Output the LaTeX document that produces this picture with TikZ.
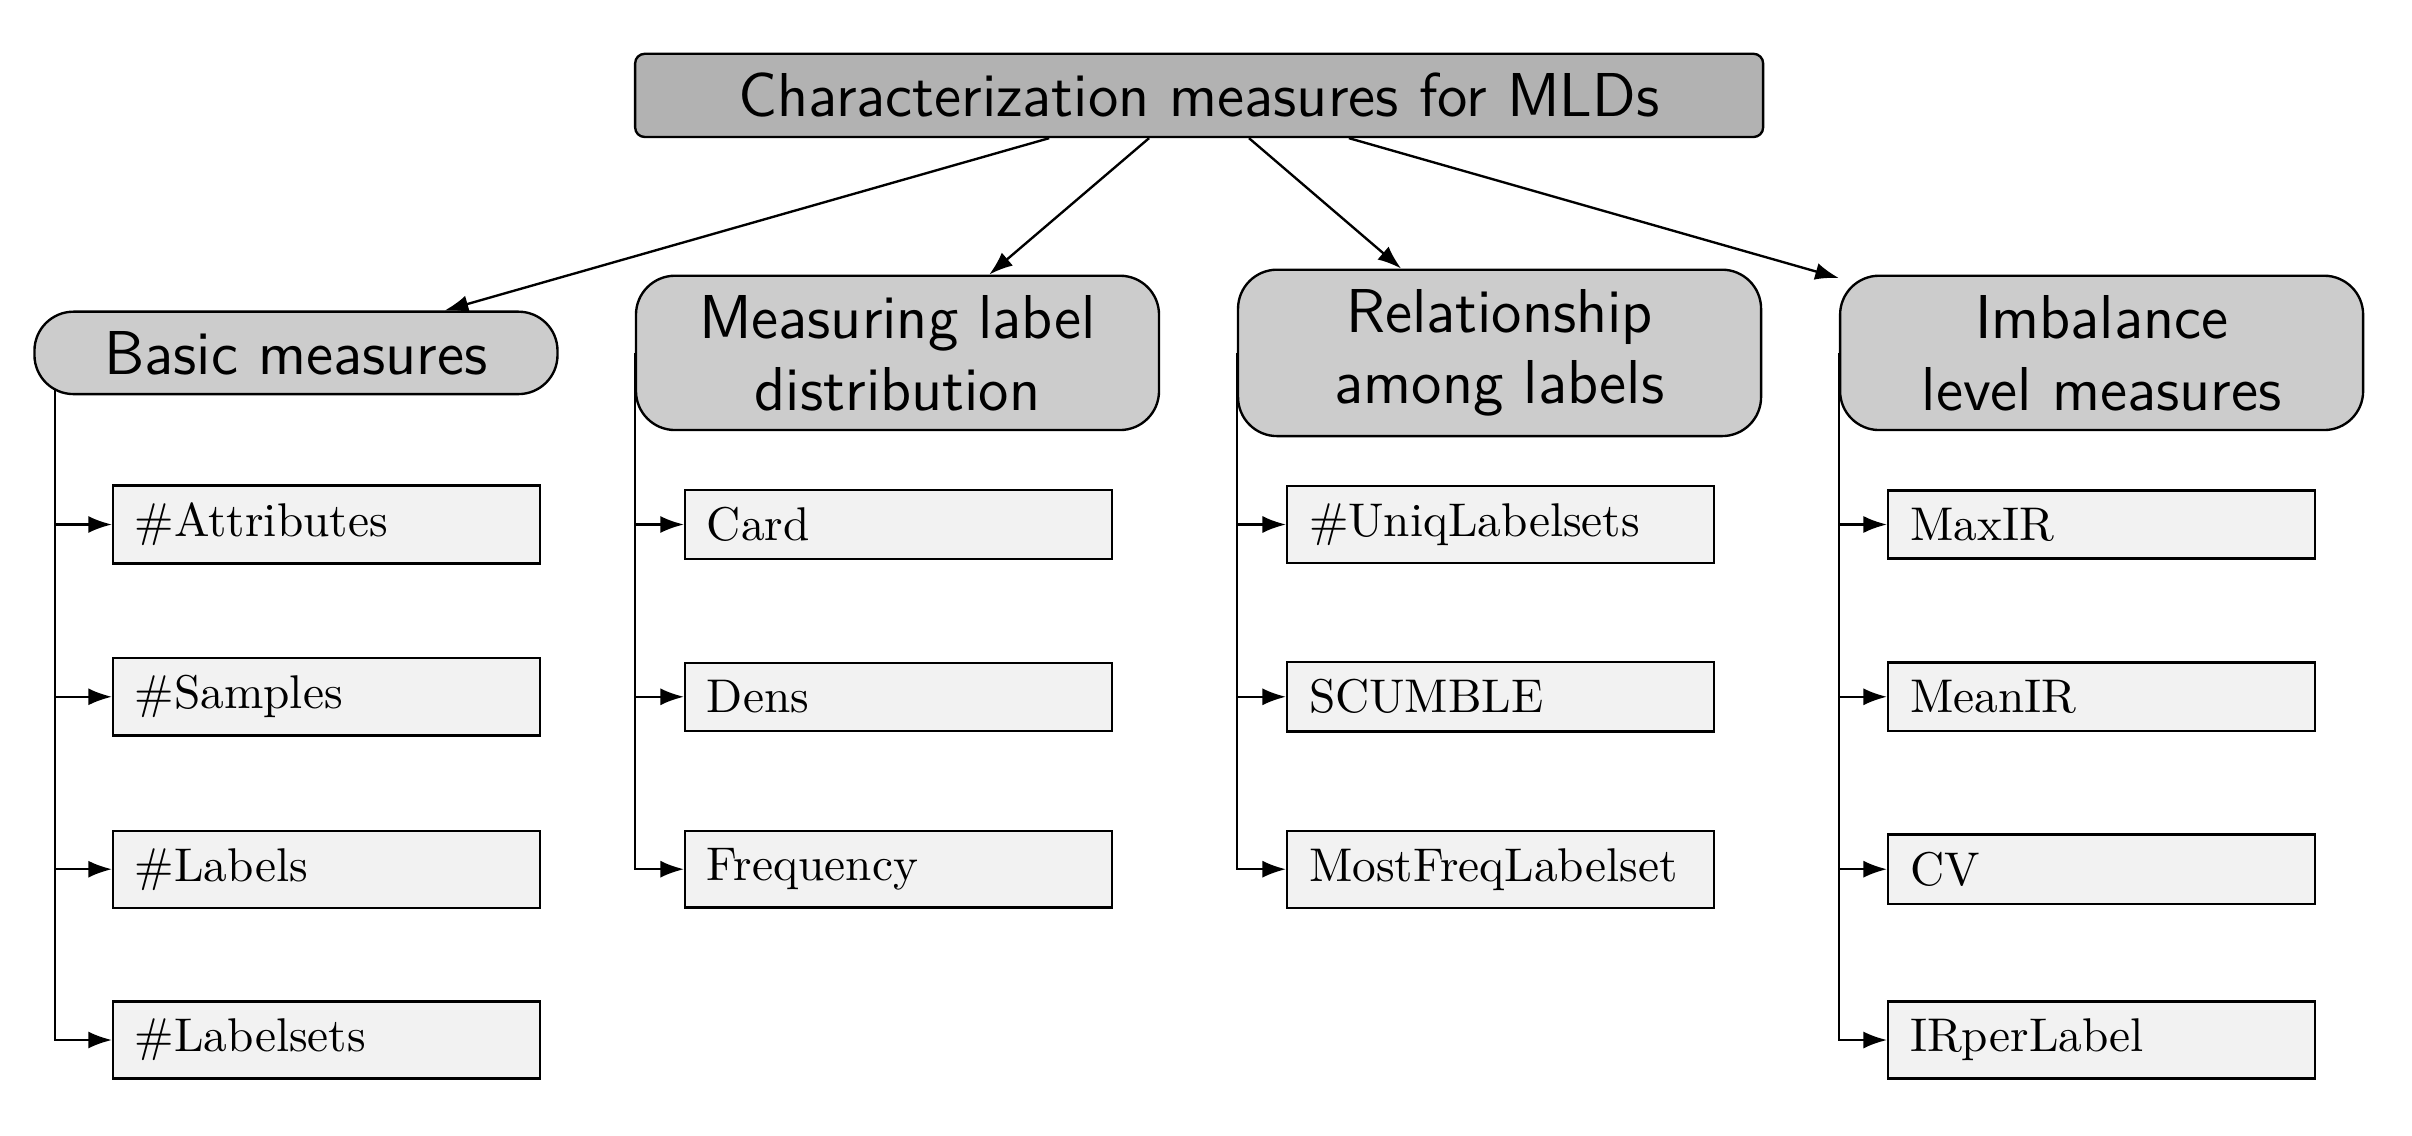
\documentclass[tikz,border=0pt]{standalone}
\usetikzlibrary{arrows.meta,backgrounds}
\tikzset{
  root/.style={rectangle,rounded corners=2pt,draw=black,fill=black!30,line width=.5pt,minimum width=8.38cm,inner ysep=4.1pt,font=\sffamily\fontsize{13.1}{15.2}\selectfont},
  group/.style={rectangle,rounded corners=.29cm,draw=black,fill=black!20,line width=.5pt,minimum width=3.886cm,inner ysep=4.1pt,align=center,font=\sffamily\fontsize{13.1}{15.2}\selectfont},
  measure/.style={rectangle,draw=black,fill=black!5,line width=.5pt,text width=81pt,inner xsep=4.6pt,inner ysep=3.7pt,align=left,anchor=west},
  arr/.style={-{Latex[length=5pt,width=3.6pt]},line width=.5pt},
}
\begin{document}
\begin{tikzpicture}
  \useasboundingbox (0,0) rectangle (17.92,8.44);
  \node[root] (top) at (8.909,7.731) {Characterization measures for MLDs};
  % categories
  \node[group] (basic) at (2.199,5.818) {Basic measures};
  \node[group] (dist) at (6.668,5.818) {Measuring label\\distribution};
  \node[group] (rel) at (11.141,5.818) {Relationship\\among labels};
  \node[group] (imb) at (15.614,5.818) {Imbalance\\level measures};
  \draw[arr] (top) -- (basic);
  \draw[arr] (top) -- (dist);
  \draw[arr] (top) -- (rel);
  \draw[arr] (top) -- (imb);
  % basic measures
  \node[measure] (attr) at (0.832,4.543) {\#Attributes};
  \node[measure] (samp) at (0.832,3.263) {\#Samples};
  \node[measure] (labs) at (0.832,1.982) {\#Labels};
  \node[measure] (lsets) at (0.832,0.713) {\#Labelsets};
  % label distribution
  \node[measure] (card) at (5.082,4.543) {Card};
  \node[measure] (dens) at (5.082,3.263) {Dens};
  \node[measure] (freq) at (5.082,1.982) {Frequency};
  % relationship among labels
  \node[measure] (uniq) at (9.555,4.543) {\#UniqLabelsets};
  \node[measure] (scum) at (9.555,3.263) {SCUMBLE};
  \node[measure] (mfls) at (9.555,1.982) {MostFreqLabelset};
  % imbalance level
  \node[measure] (maxir) at (14.020,4.543) {MaxIR};
  \node[measure] (meanir) at (14.020,3.263) {MeanIR};
  \node[measure] (cv) at (14.020,1.982) {CV};
  \node[measure] (irpl) at (14.020,0.713) {IRperLabel};
  \begin{scope}[on background layer]
    \coordinate (basictrunk) at ([xshift=.163cm]basic.west);
    \draw[arr] (basictrunk) |- (attr.west);
    \draw[arr] (basictrunk) |- (samp.west);
    \draw[arr] (basictrunk) |- (labs.west);
    \draw[arr] (basictrunk) |- (lsets.west);
    \draw[arr] (dist.west) |- (card.west);
    \draw[arr] (dist.west) |- (dens.west);
    \draw[arr] (dist.west) |- (freq.west);
    \draw[arr] (rel.west) |- (uniq.west);
    \draw[arr] (rel.west) |- (scum.west);
    \draw[arr] (rel.west) |- (mfls.west);
    \draw[arr] (imb.west) |- (maxir.west);
    \draw[arr] (imb.west) |- (meanir.west);
    \draw[arr] (imb.west) |- (cv.west);
    \draw[arr] (imb.west) |- (irpl.west);
  \end{scope}
\end{tikzpicture}
\end{document}
